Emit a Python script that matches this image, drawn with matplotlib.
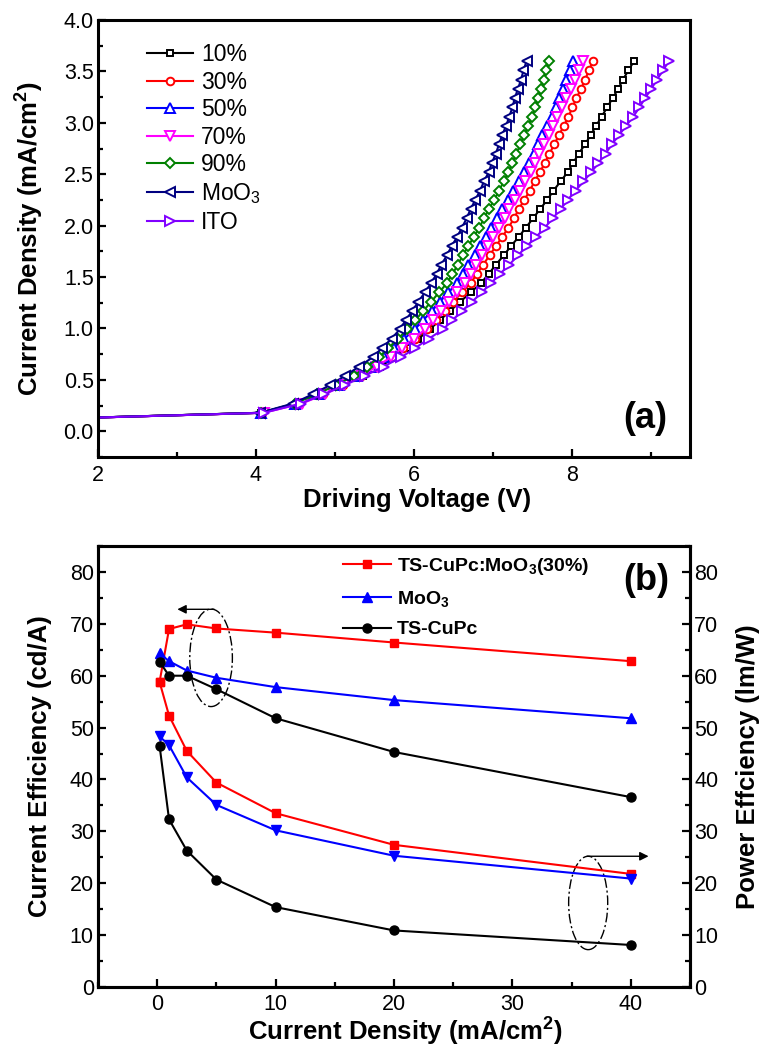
import matplotlib
matplotlib.use("Agg")
import matplotlib.pyplot as plt
from matplotlib.patches import Ellipse
from matplotlib.ticker import MultipleLocator, FormatStrFormatter

plt.rcParams['font.family'] = ['Liberation Sans', 'DejaVu Sans']
plt.rcParams['mathtext.default'] = 'regular'

# ---------------- Panel (a) data ----------------
J_a = [0.09, 0.18, 0.27, 0.36, 0.45, 0.54, 0.63, 0.72, 0.81, 0.90, 0.99, 1.08, 1.17,
       1.26, 1.35, 1.44, 1.53, 1.62, 1.71, 1.80, 1.89, 1.98, 2.07, 2.16, 2.25,
       2.34, 2.43, 2.52, 2.61, 2.70, 2.79, 2.88, 2.97, 3.06, 3.15, 3.24, 3.33,
       3.42, 3.51, 3.60]

V_10 = [0.0, 4.06, 4.52, 4.84, 5.11, 5.36, 5.57, 5.77, 5.91, 6.06, 6.20, 6.33, 6.46, 6.59,
        6.72, 6.85, 6.95, 7.04, 7.14, 7.23, 7.33, 7.42, 7.51, 7.60, 7.69, 7.77,
        7.86, 7.95, 8.02, 8.09, 8.17, 8.24, 8.31, 8.38, 8.45, 8.52, 8.59, 8.65,
        8.72, 8.79]
V_30 = [0.0, 4.08, 4.55, 4.85, 5.10, 5.33, 5.53, 5.72, 5.87, 6.02, 6.17, 6.28, 6.39, 6.50,
        6.61, 6.72, 6.80, 6.88, 6.96, 7.04, 7.12, 7.20, 7.27, 7.33, 7.40, 7.47,
        7.53, 7.60, 7.66, 7.72, 7.78, 7.84, 7.90, 7.96, 8.01, 8.06, 8.12, 8.17,
        8.22, 8.27]
V_50 = [0.0, 4.07, 4.50, 4.80, 5.05, 5.28, 5.46, 5.62, 5.75, 5.88, 6.01, 6.12, 6.23, 6.33,
        6.44, 6.55, 6.62, 6.69, 6.77, 6.84, 6.91, 6.98, 7.05, 7.12, 7.19, 7.26,
        7.33, 7.40, 7.46, 7.52, 7.58, 7.63, 7.69, 7.75, 7.80, 7.84, 7.89, 7.93,
        7.98, 8.02]
V_70 = [0.0, 4.10, 4.58, 4.87, 5.12, 5.34, 5.53, 5.71, 5.85, 6.00, 6.14, 6.24, 6.34, 6.45,
        6.55, 6.65, 6.72, 6.79, 6.87, 6.94, 7.01, 7.08, 7.15, 7.21, 7.28, 7.35,
        7.41, 7.48, 7.54, 7.59, 7.65, 7.71, 7.76, 7.82, 7.88, 7.93, 7.99, 8.04,
        8.10, 8.15]
V_90 = [0.0, 4.06, 4.49, 4.77, 5.02, 5.24, 5.41, 5.56, 5.68, 5.80, 5.92, 6.02, 6.12, 6.22,
        6.32, 6.42, 6.49, 6.56, 6.62, 6.69, 6.76, 6.83, 6.89, 6.95, 7.02, 7.08,
        7.14, 7.20, 7.25, 7.30, 7.35, 7.40, 7.45, 7.50, 7.54, 7.57, 7.61, 7.65,
        7.68, 7.72]
V_MoO3 = [0.0, 4.05, 4.47, 4.72, 4.94, 5.13, 5.31, 5.48, 5.60, 5.72, 5.82, 5.90, 5.98, 6.06,
          6.14, 6.22, 6.29, 6.35, 6.42, 6.48, 6.55, 6.61, 6.67, 6.72, 6.78, 6.84,
          6.89, 6.95, 6.99, 7.04, 7.08, 7.12, 7.17, 7.21, 7.25, 7.28, 7.32, 7.36,
          7.39, 7.43]
V_ITO = [0.0, 4.10, 4.57, 4.86, 5.13, 5.38, 5.62, 5.84, 6.02, 6.19, 6.37, 6.49, 6.61, 6.74,
         6.86, 6.98, 7.09, 7.21, 7.32, 7.43, 7.55, 7.66, 7.76, 7.86, 7.95, 8.05,
         8.15, 8.25, 8.34, 8.43, 8.51, 8.60, 8.69, 8.78, 8.86, 8.93, 9.01, 9.08,
         9.16, 9.23]

labels_a = ['10%', '30%', '50%', '70%', '90%', 'MoO$_3$', 'ITO']

# ---------------- Panel (b) data ----------------
J_b = [0.2, 1, 2.5, 5, 10, 20, 40]
CE_ts_moo3 = [58.8, 69.0, 69.9, 69.1, 68.3, 66.4, 62.8]
CE_moo3 = [64.3, 62.8, 61.0, 59.6, 57.8, 55.3, 51.8]
CE_ts = [62.7, 60.0, 60.0, 57.4, 51.8, 45.3, 36.6]
PE_ts_moo3 = [58.8, 52.3, 45.5, 39.4, 33.5, 27.4, 21.8]
PE_moo3 = [48.3, 46.6, 40.4, 35.1, 30.2, 25.3, 20.9]
PE_ts = [46.5, 32.3, 26.3, 20.7, 15.4, 10.9, 8.1]
labels_b = ['TS-CuPc:MoO$_3$(30%)', 'MoO$_3$', 'TS-CuPc']

fig = plt.figure(figsize=(7.62, 10.5), dpi=100)

TICK_FS = 15.5
LABEL_FS = 18.5


def style_axis(ax, right_ticks=False):
    for s in ax.spines.values():
        s.set_linewidth(2.2)
    ax.tick_params(which='both', direction='in', width=1.6, top=False,
                   right=right_ticks, labelsize=TICK_FS)
    ax.tick_params(which='major', length=6)
    ax.tick_params(which='minor', length=3.5)
    ax.tick_params(axis='y', pad=3)
    ax.tick_params(axis='x', pad=6)


# ---------------- Panel (a) ----------------
ax1 = fig.add_axes([98 / 762, 1 - 457 / 1050, 592 / 762, 437 / 1050])
series_a = [V_10, V_30, V_50, V_70, V_90, V_MoO3, V_ITO]
colors_a = ['#000000', '#FF0000', '#0000FF', '#FF00FF', '#008000', '#000080', '#8000FF']
markers_a = ['s', 'o', '^', 'v', 'D', '<', '>']
msizes_a = [5.0, 5.5, 6.5, 6.5, 5.0, 6.5, 6.5]
for V, c, m, ms, lab in zip(series_a, colors_a, markers_a, msizes_a, labels_a):
    ax1.plot(V, J_a, color=c, lw=1.5, marker=m, ms=ms, mfc='white',
             mec=c, mew=1.4, label=lab)

ax1.set_xlim(2, 9.5)
ax1.set_ylim(-0.25, 4.0)
ax1.xaxis.set_major_locator(MultipleLocator(2))
ax1.xaxis.set_minor_locator(MultipleLocator(1))
ax1.yaxis.set_major_locator(MultipleLocator(0.5))
ax1.yaxis.set_minor_locator(MultipleLocator(0.25))
ax1.yaxis.set_major_formatter(FormatStrFormatter('%.1f'))
style_axis(ax1)
ax1.set_xlabel('Driving Voltage (V)', fontsize=LABEL_FS, fontweight='bold')
ax1.set_ylabel('Current Density (mA/cm$^2$)', fontsize=LABEL_FS, fontweight='bold')
ax1.xaxis.set_label_coords(0.539, -0.072)
ax1.yaxis.set_label_coords(-0.088, 0.5)
ax1.legend(loc='upper left', bbox_to_anchor=(0.083, 0.947), frameon=False,
           fontsize=16.5, borderpad=0, handlelength=2.0, handletextpad=0.35,
           labelspacing=0.2, borderaxespad=0)
ax1.text(0.924, 0.089, '(a)', transform=ax1.transAxes, fontsize=26,
         fontweight='bold', ha='center', va='center')

# ---------------- Panel (b) ----------------
ax2 = fig.add_axes([98 / 762, 1 - 987 / 1050, 592 / 762, 441 / 1050])
ax2.plot(J_b, CE_ts_moo3, color='#FF0000', lw=1.5, marker='s', ms=6, label=labels_b[0])
ax2.plot(J_b, CE_moo3, color='#0000FF', lw=1.5, marker='^', ms=7.5, label=labels_b[1])
ax2.plot(J_b, CE_ts, color='#000000', lw=1.5, marker='o', ms=6.5, label=labels_b[2])
ax2.plot(J_b, PE_ts_moo3, color='#FF0000', lw=1.5, marker='s', ms=6)
ax2.plot(J_b, PE_moo3, color='#0000FF', lw=1.5, marker='v', ms=7.5)
ax2.plot(J_b, PE_ts, color='#000000', lw=1.5, marker='o', ms=6.5)

ax2.set_xlim(-5, 45)
ax2.set_ylim(0, 85)
ax2.xaxis.set_major_locator(MultipleLocator(10))
ax2.xaxis.set_minor_locator(MultipleLocator(5))
ax2.yaxis.set_major_locator(MultipleLocator(10))
ax2.yaxis.set_minor_locator(MultipleLocator(5))
style_axis(ax2)
ax2.tick_params(axis='x', pad=5)

ax2r = ax2.twinx()
ax2r.set_ylim(0, 85)
ax2r.yaxis.set_major_locator(MultipleLocator(10))
ax2r.yaxis.set_minor_locator(MultipleLocator(5))
for s in ax2r.spines.values():
    s.set_linewidth(2.2)
ax2r.tick_params(which='both', direction='in', width=1.6, labelsize=TICK_FS, pad=3)
ax2r.tick_params(which='major', length=6)
ax2r.tick_params(which='minor', length=3.5)

ax2.set_xlabel('Current Density (mA/cm$^2$)', fontsize=LABEL_FS, fontweight='bold')
ax2.set_ylabel('Current Efficiency (cd/A)', fontsize=LABEL_FS, fontweight='bold')
ax2r.set_ylabel('Power Effciency (lm/W)', fontsize=LABEL_FS, fontweight='bold',
                rotation=90)
ax2.xaxis.set_label_coords(0.52, -0.066)
ax2.yaxis.set_label_coords(-0.078, 0.5)
ax2r.yaxis.set_label_coords(1.077, 0.5)

ax2.legend(loc='upper left', bbox_to_anchor=(0.414, 0.978), frameon=False,
           prop={'size': 14, 'weight': 'bold'}, borderpad=0, handlelength=2.45,
           handletextpad=0.3, labelspacing=0.62, borderaxespad=0)
ax2.text(0.926, 0.921, '(b)', transform=ax2.transAxes, fontsize=26,
         fontweight='bold', ha='center', va='center')

# guide ellipses and arrows
ell_ce = dict(center=(4.55, 63.45), width=3.6, height=18.8)
ell_pe = dict(center=(36.4, 16.2), width=3.3, height=18.0)
for e in (ell_ce, ell_pe):
    ax2.add_patch(Ellipse(e['center'], e['width'], e['height'], fill=False,
                          ec='black', lw=1.0, ls=(0, (7, 2, 1.5, 2))))
arrow_ce = ((4.8, 72.8), (1.7, 72.8))
arrow_pe = ((36.3, 25.2), (41.5, 25.2))
for start, end in (arrow_ce, arrow_pe):
    ax2.annotate('', xy=end, xytext=start,
                 arrowprops=dict(arrowstyle='-|>', color='black', lw=1.0,
                                 mutation_scale=13, shrinkA=0, shrinkB=0))

fig.savefig('out.png', dpi=100)
